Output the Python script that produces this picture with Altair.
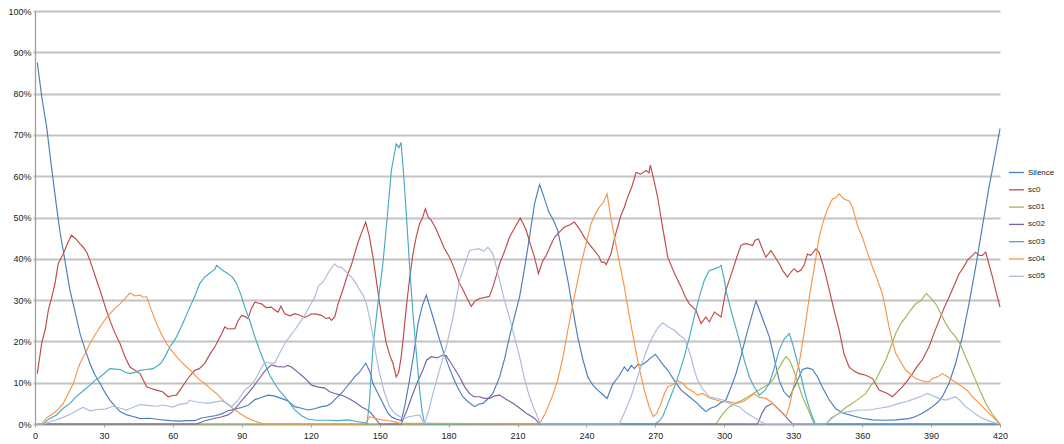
import altair as alt
import pandas as pd

# ---- data (frame, percent) ----
series_names = ["Silence", "sc0", "sc01", "sc02", "sc03", "sc04", "sc05"]
series_colors = ["#4A7EBB", "#BE4B48", "#98B954", "#7D60A0", "#46AAC5", "#F79646", "#A9BCDC"]
x_ticks = [0, 30, 60, 90, 120, 150, 180, 210, 240, 270, 300, 330, 360, 390, 420]
y_ticks = [0, 0.1, 0.2, 0.3, 0.4, 0.5, 0.6, 0.7, 0.8, 0.9, 1.0]

silence = [(1, 87.5), (3, 79), (5.1, 71.8), (7, 63), (9.4, 52.5), (11, 46), (12.3, 42), (13.8, 37), (15.2, 32.4),
           (17.5, 27), (19.6, 21.9), (21.8, 18), (23.9, 14.7), (26, 12), (28.3, 9.8), (30.5, 7.6), (32.6, 5.8),
           (35, 4.2), (37, 3), (40, 2.2), (42.7, 1.8), (46, 1.3), (50, 1.4), (54, 1.1), (58.7, 0.8), (63, 0.7),
           (66, 0.8), (69.6, 0.8), (72, 1.4), (75, 1.7), (78.3, 2), (81, 2.4), (84, 3.2), (87, 3.6), (89.9, 4),
           (93, 4.6), (95.7, 5.9), (98.5, 6.4), (101.4, 7), (104, 6.8), (107.2, 6.2), (110, 5.6), (113, 4.2),
           (116, 3.8), (118.8, 3.4), (121.7, 3.7), (124.7, 4.2), (127, 4.4), (129, 5), (131, 6.2), (133.3, 7.4),
           (136, 9.2), (139.1, 11.4), (141.3, 12.6), (143.9, 14.7), (145.7, 12.8), (147.1, 9.8), (150, 6.6),
           (153.6, 2.6), (155.5, 1.6), (157.2, 1.2), (159.4, 0.8), (161, 4.5), (163, 10.6), (165, 17.5),
           (166.7, 24.3), (168.5, 28.5), (170.3, 31.2), (171.8, 28.5), (173.2, 25.9), (175.5, 21.5), (177.5, 17.9),
           (179.7, 14.5), (181.9, 11.4), (184, 8.8), (186.2, 6.6), (188.5, 5.4), (191.3, 4.2), (193, 4.8),
           (194.9, 5), (197, 6), (199.3, 7.4), (202.2, 11.4), (204.5, 16), (206.5, 21.1), (208.7, 26),
           (210.9, 30.8), (213, 37.5), (215.2, 45.2), (217.4, 53.3), (219.6, 58), (221.5, 55), (223.5, 51.5),
           (225.5, 49.5), (227.5, 46.9), (229.7, 41), (231.9, 34.8), (234, 28), (236.2, 21.1), (238.5, 15.5),
           (240.6, 11.4), (242.8, 9.4), (244.9, 8.2), (247, 7.2), (249, 6.2), (251.4, 9.6), (254, 11.5),
           (256.5, 13.8), (258, 12.8), (259.5, 14.2), (260.9, 13.4), (262.5, 14.5), (263.8, 14.2), (266, 15),
           (268, 16), (270, 16.9), (272.5, 15), (275.4, 13), (278.3, 10.5), (281.2, 8.2), (284.8, 6.6),
           (288.3, 5), (290, 4), (292, 3), (294, 3.8), (296.4, 4.3), (298.5, 5.2), (300.7, 5.8), (303, 9),
           (305.1, 12.2), (307.3, 16.5), (309.4, 21.1), (311.6, 25.5), (313.8, 29.8), (316.7, 25.5),
           (319.6, 21.1), (321.7, 16), (323.9, 10.5), (326, 7.8), (328.3, 6.4), (331, 9.5), (334, 13.2),
           (336.2, 13.6), (338.4, 13.2), (340.5, 11.5), (342.8, 8.8), (345.7, 5.8), (348.6, 3.6), (352, 2.6),
           (355.8, 2), (360, 1.4), (364.5, 1), (369.5, 0.9), (374.6, 1), (380.4, 1.3), (383.3, 1.8), (386.2, 2.6),
           (388.5, 3.4), (390.6, 4.2), (392.8, 5.2), (394.9, 6.6), (397.8, 9.8), (400.7, 14.7), (403.6, 21.1),
           (406.5, 29.1), (409.4, 38), (412.3, 47.7), (415.2, 57.3), (417.5, 64), (420, 71.5)]

sc0 = [(1, 12.2), (2.9, 19.5), (4.5, 23), (5.8, 27.5), (7.2, 30.5), (8.7, 34), (10.1, 38.8), (12.3, 41.2),
       (14, 43.5), (15.9, 45.7), (17.8, 44.8), (19.6, 43.6), (21, 42.8), (22.5, 41.6), (24, 39.5), (25.4, 37.2),
       (26.8, 34.8), (28.3, 32.4), (30.5, 28.5), (32.6, 25.1), (34.8, 22), (37, 19.5), (39, 16.5), (41.3, 13.8),
       (43.5, 13), (45.7, 12.2), (47, 10.8), (48.6, 9), (50.5, 8.6), (52.9, 8.2), (55.5, 7.8), (58, 6.6),
       (60, 6.9), (61.6, 7), (63.5, 8.5), (66, 10.6), (68, 12), (69.6, 13), (71.5, 13.4), (73.9, 14.7),
       (76, 16.8), (78.3, 18.7), (80, 20.5), (81.2, 21.8), (82.6, 23.5), (84, 23), (87, 23.1), (88.4, 25),
       (89.9, 26.3), (91.5, 26), (92.7, 25.5), (94.2, 28), (95.7, 29.5), (97, 29.3), (98.6, 29.1),
       (100.5, 28.2), (102.9, 28.3), (104.3, 27.6), (105.8, 27.1), (107, 28.5), (108.7, 26.7), (111, 26.2),
       (113, 26.7), (115, 26.4), (117.4, 25.8), (119, 26.2), (120.3, 26.7), (122.5, 26.6), (124.7, 26.3),
       (126.8, 25.5), (128, 25.8), (129, 25.1), (130.5, 26), (131.9, 29.1), (134, 32.5), (136.2, 36.4),
       (137.7, 38.5), (139.1, 41.2), (140.6, 44), (142, 46.1), (143.9, 48.9), (145.5, 45.5), (147.1, 40.4),
       (148.5, 35), (150, 29.1), (151.5, 24), (152.9, 19.5), (154.5, 16.5), (155.8, 14.7), (157.2, 11.4),
       (158.3, 12.5), (159.4, 16.3), (160.5, 22), (161.6, 28.3), (163, 35), (164.5, 41.2), (166, 45.5),
       (167.4, 48.5), (168.7, 50), (169.9, 52.1), (171.2, 50), (172.5, 49.3), (174.3, 47.5), (176.1, 45.2),
       (178.2, 42.5), (180.4, 40.4), (182.6, 37.5), (184.8, 34), (186.3, 32.5), (187.7, 30.8), (189.9, 28.5),
       (191.5, 29.8), (193.5, 30.4), (195.5, 30.6), (197.8, 30.9), (199.3, 33.2), (200.8, 36), (202.2, 38.8),
       (204.5, 42), (206.5, 45.2), (208.8, 47.5), (211.2, 49.9), (212.5, 48.5), (213.8, 46.9), (215.6, 43.5),
       (217.4, 40.4), (219.1, 36.4), (221, 39.5), (222.5, 40.8), (224.2, 43), (226.1, 45.2), (228.3, 46.5),
       (230.4, 47.7), (232.6, 48.2), (234.8, 48.9), (237, 47.2), (239.1, 45.2), (241.3, 43.5), (243.5, 42),
       (245.5, 40.5), (246.5, 39.2), (247.8, 39.2), (248.6, 38.6), (250.7, 41.2), (252.2, 45), (253.6, 47.7),
       (255, 50.5), (256.5, 52.5), (258, 55), (259.8, 57.5), (261.6, 60.9), (263.5, 60.5), (266, 61.4),
       (267.2, 60.8), (267.8, 62.7), (269.4, 59), (271, 54.9), (273.2, 47.5), (275.4, 40.4), (278.3, 36.5),
       (281.2, 33.2), (283, 30.8), (284.8, 29.1), (287.7, 27.5), (289.9, 24.3), (292, 25.9), (293.5, 24.7),
       (295.7, 27.1), (298.6, 25.9), (300.7, 32.4), (303.6, 37.2), (305.5, 40.5), (307.2, 43.2), (308.6, 43.6),
       (310.1, 43.6), (312.3, 43.2), (313.4, 44.5), (314.9, 44.8), (316.5, 42.5), (318.1, 40.4), (320.3, 42),
       (322, 40.5), (323.9, 38.8), (325.6, 37), (327.5, 35.6), (329, 36.8), (330.4, 37.6), (331.8, 36.8),
       (333.3, 37.2), (334.8, 38.5), (336.2, 41.2), (337.5, 40.8), (339.9, 42.4), (341.3, 41.5), (342.8, 38.8),
       (344.2, 36), (345.7, 32.4), (347.8, 27.5), (350, 22.7), (352.1, 17), (354.3, 13.8), (356.5, 12.8),
       (358.7, 12.2), (361.6, 11.8), (364.5, 11), (367.4, 8.2), (369.2, 7.8), (371, 7.4), (373.2, 6.6),
       (375.3, 7.8), (377.5, 9), (379.7, 10.5), (381.9, 12.2), (384, 14), (386.2, 15.5), (389.1, 18.7),
       (391.3, 22), (393.5, 25.1), (395.6, 28), (397.8, 30.7), (400, 33.5), (402.2, 36.4), (404, 37.8),
       (405.8, 39.6), (407.6, 40.6), (409.4, 41.6), (411, 40.8), (412.3, 40.8), (413.8, 41.6), (415.3, 38.5),
       (416.7, 35.6), (418.3, 32), (420, 28.3)]

sc01 = [(1, 0), (296.4, 0), (299, 2.2), (302.2, 4.2), (305, 5), (308, 5.8), (311, 6.8), (313.8, 7.8),
        (316.7, 8.8), (319.6, 9.8), (321.5, 11), (323.2, 13), (325, 14.8), (326.8, 16.3), (328.3, 15.5),
        (329.7, 13.8), (332, 10), (334, 6.6), (336.5, 3.5), (339.1, 0), (344.2, 0), (347, 1.5), (350, 2.6),
        (352.9, 4), (355.8, 5), (358.7, 6.2), (361.6, 7.4), (364, 9.5), (365.9, 10.6), (368, 13), (370.3, 15.5),
        (372.5, 18.7), (374.6, 21.9), (377, 24.5), (379, 25.9), (381, 27.5), (383.3, 29.1), (385.5, 29.8),
        (387.9, 31.6), (390, 30.5), (392, 29.1), (394, 27), (396.4, 24.3), (398.5, 22.5), (400.7, 21.1),
        (403, 19), (405, 16.3), (407.2, 13.5), (409.4, 10.6), (411.5, 7.8), (413.8, 5), (416.5, 2.5), (420, 0)]

sc02 = [(1, 0), (70.3, 0), (74, 0.8), (78.3, 1.4), (81, 1.7), (84, 2.2), (86, 3), (88.4, 4.6), (90.5, 6),
        (92.7, 7.4), (95, 9), (97.1, 10.6), (100, 12.8), (102.9, 14.3), (105.5, 13.9), (108.7, 13.8),
        (110, 14.2), (111.6, 13.8), (113.8, 12.8), (116, 11.8), (118, 10.8), (120.3, 9.4), (123, 9),
        (126.1, 8.7), (128.3, 7.8), (130.4, 7.4), (133.3, 7), (135.5, 6.5), (137.7, 5.8), (140, 5), (142, 4.2),
        (144, 3.6), (145.7, 3), (147.5, 1.8), (150, 0), (159.4, 0), (162, 3.5), (164.5, 7.4), (166.7, 10.5),
        (168.8, 13), (170.5, 15.5), (172.5, 16.3), (175, 16), (177.5, 16.7), (179, 16.5), (181.1, 14.7),
        (183, 13), (184.8, 11.4), (187, 9), (189.1, 7.4), (191, 6.6), (193.5, 6.6), (195.5, 6.2), (197.8, 6.2),
        (200, 6.8), (202.2, 7), (205, 6), (208, 5), (211, 3.8), (213.8, 2.6), (217.4, 1.4), (219.6, 0),
        (314.5, 0), (316.3, 2.5), (318.1, 4.2), (319.6, 4.6), (321, 5), (323.2, 3.8), (325.4, 2.6),
        (327.5, 1.3), (329.7, 0), (420, 0)]

sc03 = [(1, 0), (3.6, 0), (6, 1.2), (9.4, 2.2), (12.3, 3.8), (15.2, 5), (17.5, 6.4), (19.6, 7.4), (21.8, 8.4),
        (23.9, 9.4), (26, 10.5), (28.3, 11.4), (30.5, 12.4), (32.6, 13.4), (35, 13.3), (37, 13.2), (39, 12.6),
        (41.3, 12.2), (43.5, 12.5), (45.7, 13), (48.5, 13.2), (51.4, 13.4), (53, 14), (54.8, 14.7),
        (56.8, 16.5), (58.7, 18.7), (61, 20.5), (63, 22.7), (65.2, 25.5), (67.4, 28.3), (69.6, 31),
        (71.7, 34), (73.9, 35.6), (76, 36.5), (78.3, 37.5), (79, 38.4), (81.5, 37.3), (84, 36.4), (86, 35.5),
        (87.7, 34), (89.5, 31.5), (91.3, 28.3), (93.5, 25), (95.7, 21.1), (98, 17.5), (100, 14.7), (102, 12),
        (104.3, 9.8), (106.5, 8), (108.7, 6.6), (111, 5), (113, 3.4), (116, 2), (118.8, 1.2), (122, 0.9),
        (127.5, 0.9), (132, 0.8), (136.2, 1), (140, 0.6), (143.5, 0.3), (144.5, 0), (145.5, 5), (147.1, 18.7),
        (149, 28), (151.4, 38.8), (153.3, 50), (155.1, 61.4), (157.2, 67.8), (158.4, 66.9), (159.3, 68.2),
        (160.5, 60), (161.6, 50.9), (163, 38.5), (164.5, 26.7), (166, 17), (167.4, 8.2), (168.5, 3),
        (169.6, 0), (269.6, 0), (271.5, 0.6), (273.2, 1.8), (275.5, 5), (278.3, 9), (280.5, 12.5),
        (282.6, 16.3), (284.8, 21), (286.9, 25.9), (289.1, 30.7), (291.3, 34.8), (293.5, 37.2), (295.5, 37.5),
        (297.8, 38), (298.6, 38.4), (300, 35), (300.7, 32.4), (302.9, 27.5), (304.7, 24), (306.5, 20.3),
        (308.7, 15.5), (310.9, 11.4), (313, 9), (315.2, 7), (317.5, 8), (319.6, 9.8), (321.7, 13.5),
        (323.9, 17.9), (326, 20.5), (328.3, 21.9), (329.7, 19.5), (331.2, 16.3), (333.4, 11.5), (335.5, 6.6),
        (337.5, 3), (339.6, 0), (420, 0)]

sc04 = [(1, 0), (2.9, 0), (5, 1.5), (8, 2.6), (10.2, 3.6), (12.3, 5), (14.5, 7.4), (16.7, 9.8), (18.2, 12.5),
        (19.6, 14.7), (21.8, 17), (23.9, 19.5), (26, 21.5), (28.3, 23.5), (30.5, 25.3), (32.6, 26.7),
        (34.8, 28), (37, 29.1), (39, 30.3), (41.3, 31.7), (43.5, 31), (45.7, 31.2), (47, 30.7), (48.6, 30.8),
        (50.7, 27.5), (52.9, 24.3), (55, 21.8), (57.2, 19.5), (59.4, 17.8), (61.6, 16.3), (63.8, 15),
        (66, 13.8), (68, 12.8), (70.3, 11.4), (72, 10.5), (73.9, 9.8), (76.5, 8.5), (79, 7.4), (81, 6.2),
        (83.3, 5), (86, 3.8), (89.1, 2.6), (92, 1.6), (95, 0.8), (99.3, 0), (143.5, 0), (145.7, 1.8),
        (148, 1.4), (151, 1), (154, 0.8), (156.5, 0.5), (158.7, 0.2), (219.6, 0), (222, 2.5), (225, 6.5),
        (227.5, 10.6), (229.7, 16), (231.9, 22.7), (234.8, 31), (237.7, 38.8), (240, 44), (242, 48.5),
        (244, 51), (245.6, 52.5), (247.2, 53.5), (249, 55.7), (250.6, 50), (252.2, 45.2), (254.4, 39),
        (256.5, 33.2), (258.7, 26), (260.9, 19.5), (263, 13.5), (265.2, 8.2), (267.4, 4), (269.1, 1.8),
        (270.5, 2.5), (272.5, 5), (274, 7.5), (275.4, 9), (277.5, 9.5), (279.7, 10.5), (282, 9.8), (284, 8.6),
        (286.5, 7.8), (288.4, 7), (290.6, 7.4), (293.5, 6.3), (296.4, 5.8), (299, 5.4), (302.2, 5.4),
        (305, 5), (308, 5.4), (310.5, 6.2), (313, 7.4), (315, 6.5), (318.1, 6.2), (320.3, 5.4), (322.5, 4.2),
        (324.6, 3), (326.8, 1.8), (328.3, 4.2), (330.5, 10), (332.6, 14.7), (335, 23), (337, 30.7),
        (339.2, 38), (341.3, 45.2), (342.8, 48.5), (344.2, 50.9), (345.7, 53), (347.1, 54.5), (348.6, 54.8),
        (350, 55.7), (352.1, 54.5), (354.3, 54), (355.8, 52.5), (358, 48), (360.1, 45.2), (362.3, 41.5),
        (364.5, 38), (366.6, 35), (368.8, 31.6), (370.3, 27.5), (371.7, 23.5), (373.2, 20), (374.6, 17.1),
        (376.8, 15), (379, 13), (381.2, 12), (383.3, 11), (385.5, 10.6), (387.7, 10.2), (389.1, 10.2),
        (390.6, 11), (392.8, 11.4), (394.9, 12.2), (397, 11.5), (399.3, 10.6), (401.5, 9.8), (403.6, 9),
        (406, 8), (408, 6.6), (410.2, 5.4), (412.3, 4.2), (414.5, 3), (417, 1.6), (420, 0)]

sc05 = [(1, 0), (3.6, 0), (8, 0.8), (12.3, 1.6), (15.5, 2.4), (19.6, 3.7), (21, 4), (24, 3.2), (26.8, 3.5),
        (30.5, 3.6), (34, 4.3), (37, 3.8), (39.9, 3.4), (42.5, 4), (45.7, 4.7), (49, 4.5), (52.9, 4.3),
        (55.8, 4.6), (60, 4.1), (63, 4.8), (66, 5), (67.4, 5.8), (69.6, 5.4), (72, 5.2), (75.4, 5), (78, 5.3),
        (81.2, 5.6), (83.5, 5), (85.5, 4.2), (88, 5.5), (91.3, 8.2), (93.5, 9.2), (95.7, 10.6), (98, 13),
        (100, 15), (102.2, 14.8), (104.3, 14.7), (106.5, 17.2), (108.7, 19.5), (111, 21.2), (113, 22.7),
        (115.2, 24.5), (117.4, 26.3), (119.5, 28.5), (121.7, 30.7), (123.5, 33.5), (125.4, 34.4), (128, 37),
        (130.4, 38.8), (132, 38), (133.3, 38), (135.5, 36.8), (137.7, 35.6), (139.8, 34), (141.3, 32.4),
        (142.8, 31.2), (144.2, 29.2), (145.7, 25.5), (147.1, 21.1), (148.5, 16.5), (150, 12.2), (152, 7.8),
        (154.3, 4.2), (156.5, 2.6), (158.7, 1.8), (161, 1.4), (163, 1.8), (165, 2), (167.4, 2.2), (168.5, 1),
        (169.6, 0.2), (171.5, 3.5), (173.2, 7.4), (176, 13), (179, 18.7), (182, 26), (184.8, 34.8),
        (187, 38.5), (189.1, 42), (191.3, 42.3), (193.5, 42.4), (195.3, 41.8), (197.1, 42.8), (199.3, 41.2),
        (200.8, 38), (202.2, 34.8), (204.3, 30), (206.5, 25.9), (208.7, 21), (210.9, 16.3), (213, 11),
        (215.2, 6.6), (217.4, 3.5), (219.6, 0.5), (220.5, 0), (254.3, 0), (256.8, 3), (259.4, 6.6),
        (262.3, 11.5), (265.2, 16.3), (267.4, 19.5), (269.6, 21.9), (271.4, 23.5), (273.2, 24.5),
        (275.7, 23.5), (278.3, 22.7), (280.5, 21.5), (282.6, 20.7), (284, 18.7), (285.5, 16.3), (287, 13),
        (288.4, 10.6), (290.5, 8.5), (293.5, 6.6), (296.4, 6.2), (299.3, 5.8), (302.2, 5), (306.5, 4.2),
        (309.4, 2.8), (312.3, 1.8), (315, 0.8), (318, 0), (344.2, 0), (346.5, 1.5), (350, 2.6), (354.3, 3),
        (358.7, 3.4), (363, 3.4), (367.4, 3.8), (371.7, 4.2), (376.1, 5), (379.7, 5.5), (383.3, 6.2),
        (386, 6.8), (388.4, 7.4), (391, 6.8), (393.5, 6.2), (396.4, 5.8), (398.5, 6.2), (400.7, 6.6),
        (403, 5.5), (405, 4.2), (408, 3), (410.9, 1.8), (414, 1), (417, 0.4), (420, 0)]

all_series = [silence, sc0, sc01, sc02, sc03, sc04, sc05]

rows = []
for order, (name, pts) in enumerate(zip(series_names, all_series)):
    for fx, pct in pts:
        rows.append({"series": name, "order": order, "frame": fx, "share": pct / 100.0})
df = pd.DataFrame(rows)

FONT = "Liberation Sans"

chart = (
    alt.Chart(df)
    .mark_line(strokeWidth=1.15, interpolate="linear")
    .encode(
        x=alt.X(
            "frame:Q",
            scale=alt.Scale(domain=[0, 420], nice=False, zero=False),
            axis=alt.Axis(
                values=x_ticks, title=None, grid=False, format="d",
                tickSize=3, tickColor="#A0A0A0", labelPadding=4,
                domainColor="#A0A0A0", domainWidth=1.3, labelFont=FONT, labelFontSize=9,
                labelColor="#222222", labelFlush=False,
            ),
        ),
        y=alt.Y(
            "share:Q",
            scale=alt.Scale(domain=[0, 1], nice=False),
            axis=alt.Axis(
                values=y_ticks, format=".0%", title=None, grid=True,
                gridColor="#C2C2C2", gridWidth=2, tickSize=2, tickColor="#C2C2C2",
                tickWidth=2, labelPadding=2,
                domainColor="#A0A0A0", domainWidth=1.3, labelFont=FONT, labelFontSize=9,
                labelColor="#222222",
            ),
        ),
        color=alt.Color(
            "series:N",
            scale=alt.Scale(domain=series_names, range=series_colors),
            legend=alt.Legend(
                title=None, orient="none", legendX=973, legendY=153,
                symbolType="stroke", symbolSize=225, symbolStrokeWidth=1.3,
                labelFont=FONT, labelFontSize=8, labelColor="#222222",
                labelOffset=3, rowPadding=4.3, padding=0,
            ),
        ),
        order=alt.Order("frame:Q"),
        detail="series:N",
    )
    .properties(
        width=965,
        height=413,
        autosize=alt.AutoSizeParams(type="none"),
        padding={"left": 27, "top": 3, "right": 56, "bottom": 18},
    )
    .configure_view(stroke=None)
)

chart.save("out.html", embed_options={"renderer": "svg", "actions": False})
